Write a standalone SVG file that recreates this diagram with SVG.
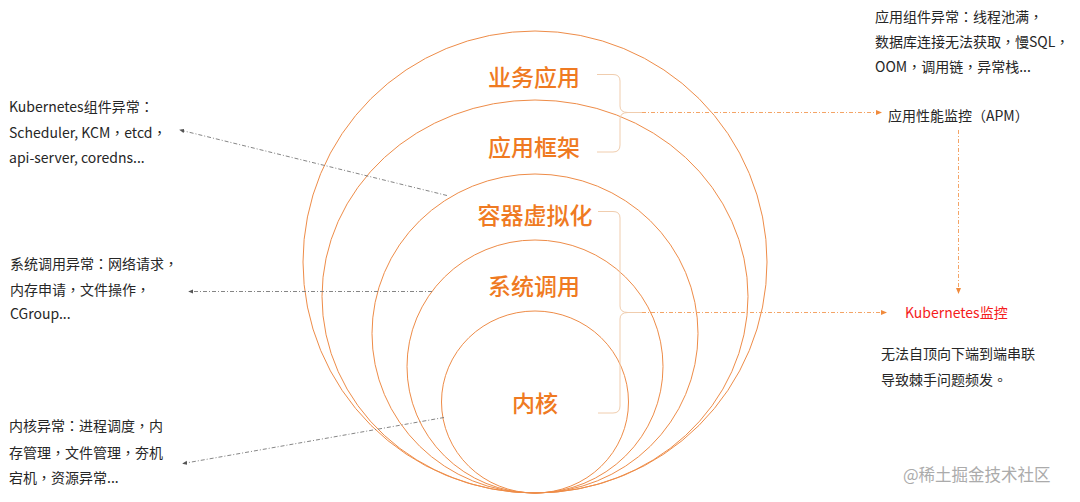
<svg xmlns="http://www.w3.org/2000/svg" width="1080" height="502" viewBox="0 0 1080 502">
<defs>
<style>
.ring{fill:none;stroke:#EE8C48;stroke-width:1}
.lbl{font-family:"Noto Sans CJK SC","Noto Sans",sans-serif;font-size:23px;fill:#EF7A22;text-anchor:middle;font-weight:500}
.txt{font-family:"Noto Sans CJK TC","Noto Sans CJK SC",sans-serif;font-size:14px;fill:#262626}
.red{font-family:"Noto Sans CJK TC","Noto Sans CJK SC",sans-serif;font-size:14px;fill:#F51C1C}
.wm{font-family:"Noto Sans CJK SC","Noto Sans",sans-serif;font-size:16.5px;fill:#ABABAB}
.brace{fill:none;stroke:#F0CDAE;stroke-width:1}
.dOr{fill:none;stroke:#F4A466;stroke-width:1;stroke-dasharray:4 2 1 2}
.dGr{fill:none;stroke:#777;stroke-width:0.9;stroke-dasharray:4 2 1 2}
</style>
<marker id="aOr" viewBox="0 0 6 6" refX="5" refY="3" markerWidth="6" markerHeight="6" orient="auto" markerUnits="userSpaceOnUse"><path d="M0,0.5 L6,3 L0,5.5 Z" fill="#F08A3C"/></marker>
<marker id="aGr" viewBox="0 0 6 6" refX="5" refY="3" markerWidth="5" markerHeight="5" orient="auto" markerUnits="userSpaceOnUse"><path d="M0,0.5 L6,3 L0,5.5 Z" fill="#555"/></marker>
</defs>
<rect width="1080" height="502" fill="#fff"/>
<g id="rings">
<ellipse id="ring-app" class="ring" cx="535" cy="262" rx="232" ry="231" stroke="#F08A3A"/>
<ellipse id="ring-framework" class="ring" cx="535" cy="296.5" rx="213" ry="196.5"/>
<ellipse id="ring-container" class="ring" cx="535" cy="333.5" rx="163" ry="159.5"/>
<ellipse id="ring-syscall" class="ring" cx="535" cy="366.5" rx="128" ry="126.5"/>
<ellipse id="ring-kernel" class="ring" cx="535" cy="402" rx="93.5" ry="91"/>
</g>
<g id="node-app"><text class="lbl" x="534" y="86">业务应用</text></g>
<g id="node-framework"><text class="lbl" x="534" y="156">应用框架</text></g>
<g id="node-container"><text class="lbl" x="535" y="224">容器虚拟化</text></g>
<g id="node-syscall"><text class="lbl" x="534" y="295">系统调用</text></g>
<g id="node-kernel"><text class="lbl" x="535" y="412">内核</text></g>
<g id="braces">
<path class="brace" d="M597,74.5 H613 Q620,74.5 620,81 V106 Q620,112.5 628,112.5 H642 M628,112.5 Q620,112.5 620,119 V145 Q620,152 613,152 H597"/>
<path class="brace" d="M598,211.5 H613 Q620,211.5 620,218 V306 Q620,312.5 628,312.5 H642 M628,312.5 Q620,312.5 620,319 V406 Q620,413 613,413 H598"/>
</g>
<g id="connectors">
<path class="dOr" d="M642,112.5 H881" marker-end="url(#aOr)"/>
<path class="dOr" d="M642,312.5 H886" marker-end="url(#aOr)"/>
<path class="dOr" d="M958.5,130 V293" marker-end="url(#aOr)"/>
<path class="dGr" d="M447,195.5 L180,130" marker-end="url(#aGr)"/>
<path class="dGr" d="M432,291.5 H189" marker-end="url(#aGr)"/>
<path class="dGr" d="M444,417.5 L183,463.5" marker-end="url(#aGr)"/>
</g>
<g id="node-apm-issues">
<text class="txt" x="875" y="22">应用组件异常：线程池满，</text>
<text class="txt" x="875" y="47">数据库连接无法获取，慢SQL，</text>
<text class="txt" x="875" y="72">OOM，调用链，异常栈...</text>
</g>
<g id="node-apm"><text class="txt" x="888" y="121">应用性能监控（APM）</text></g>
<g id="node-k8s-monitor">
<text class="red" x="905" y="318">Kubernetes监控</text>
<text class="txt" x="881" y="359">无法自顶向下端到端串联</text>
<text class="txt" x="881" y="385">导致棘手问题频发。</text>
</g>
<g id="node-k8s-issues">
<text class="txt" x="9" y="112">Kubernetes组件异常：</text>
<text class="txt" x="9" y="138">Scheduler, KCM，etcd，</text>
<text class="txt" x="9" y="163">api-server, coredns...</text>
</g>
<g id="node-syscall-issues">
<text class="txt" x="10" y="269">系统调用异常：网络请求，</text>
<text class="txt" x="10" y="295">内存申请，文件操作，</text>
<text class="txt" x="10" y="319">CGroup...</text>
</g>
<g id="node-kernel-issues">
<text class="txt" x="9" y="431">内核异常：进程调度，内</text>
<text class="txt" x="9" y="458">存管理，文件管理，夯机</text>
<text class="txt" x="9" y="483">宕机，资源异常...</text>
</g>
<text class="wm" x="903" y="481">@稀土掘金技术社区</text>
</svg>
